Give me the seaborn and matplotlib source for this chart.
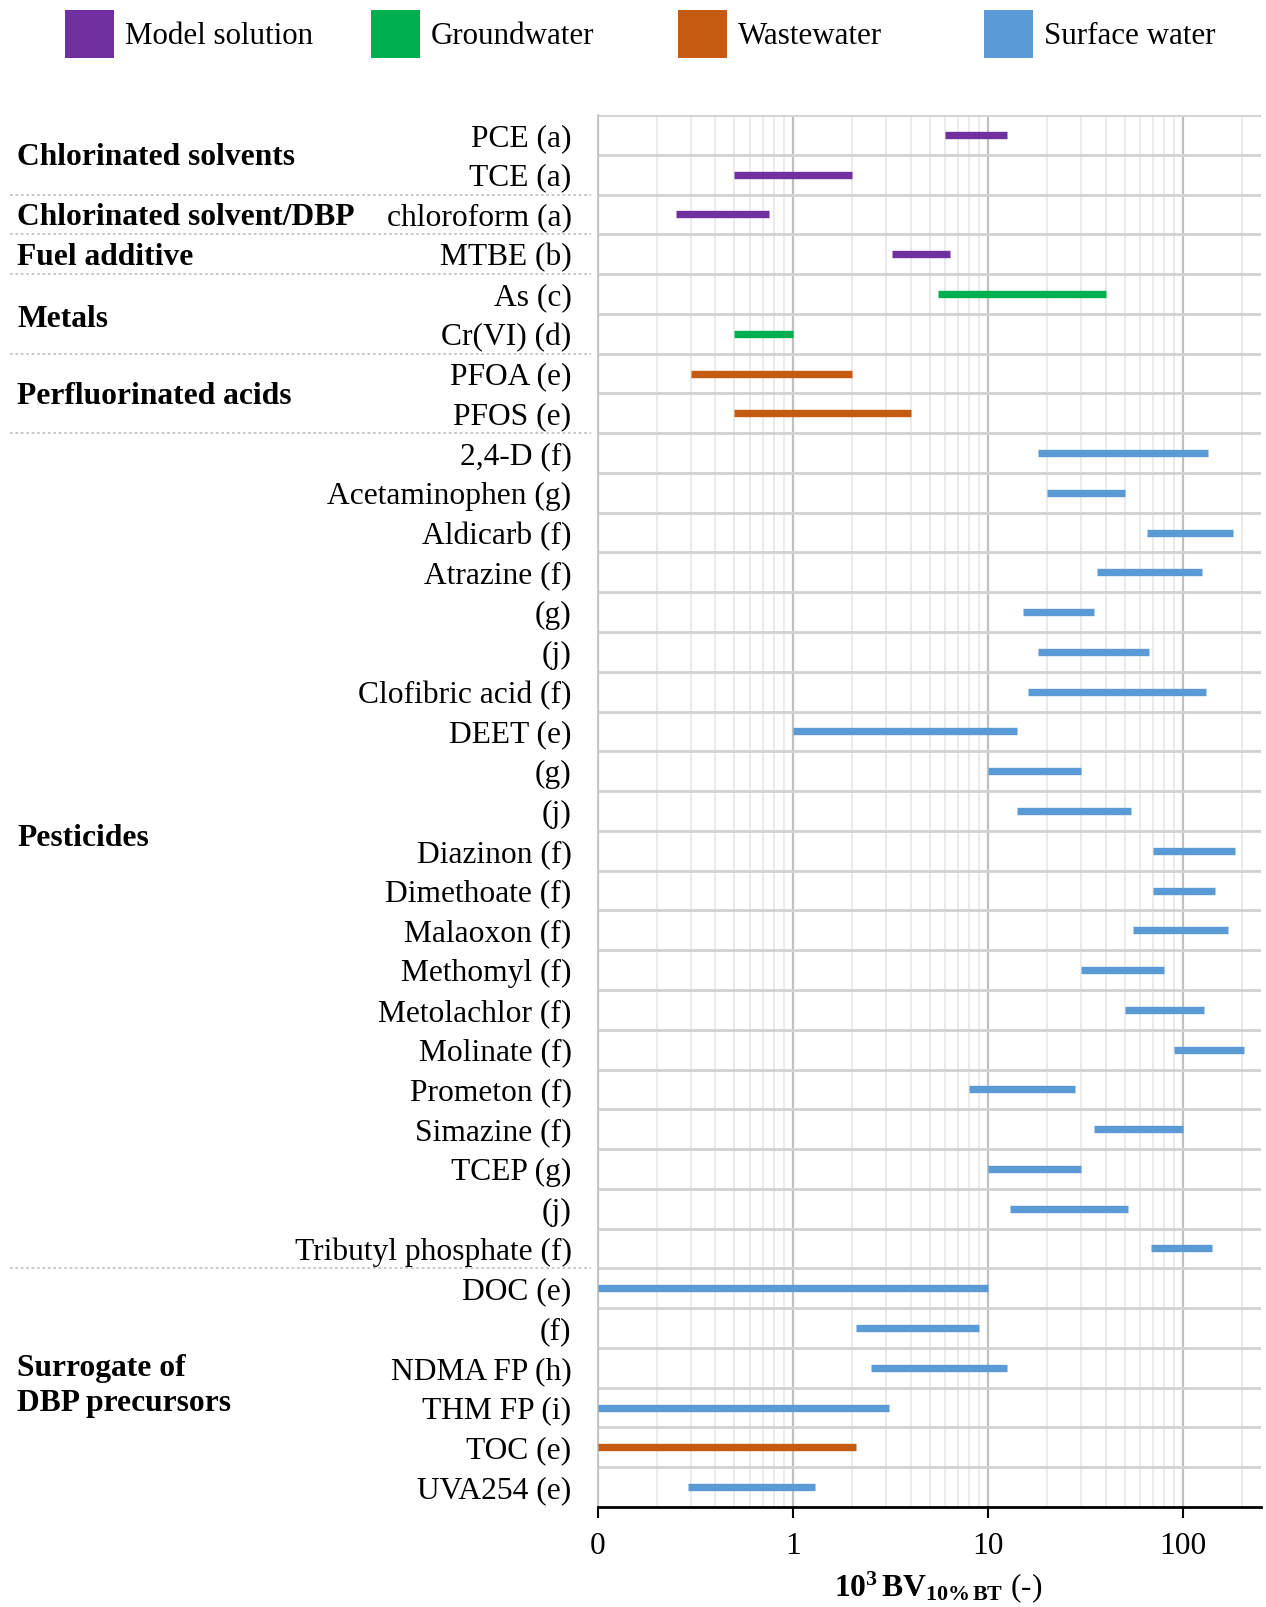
import numpy as np
import pandas as pd
import matplotlib
matplotlib.use("Agg")
import matplotlib.pyplot as plt
from matplotlib.patches import Rectangle
from matplotlib.ticker import FixedLocator
import seaborn as sns

# ---- data -------------------------------------------------------------
compounds = [
    "PCE (a)", "TCE (a)", "chloroform (a)", "MTBE (b)", "As (c)", "Cr(VI) (d)",
    "PFOA (e)", "PFOS (e)", "2,4-D (f)", "Acetaminophen (g)", "Aldicarb (f)",
    "Atrazine (f)", "(g)", "(j)", "Clofibric acid (f)", "DEET (e)", "(g)", "(j)",
    "Diazinon (f)", "Dimethoate (f)", "Malaoxon (f)", "Methomyl (f)",
    "Metolachlor (f)", "Molinate (f)", "Prometon (f)", "Simazine (f)",
    "TCEP (g)", "(j)", "Tributyl phosphate (f)", "DOC (e)", "(f)",
    "NDMA FP (h)", "THM FP (i)", "TOC (e)", "UVA254 (e)",
]
bv_low = [6.0, 0.5, 0.25, 3.2, 5.5, 0.5, 0.3, 0.5, 18, 20, 65, 36, 15, 18, 16,
          1.0, 10, 14, 70, 70, 55, 30, 50, 90, 8.0, 35, 10, 13, 68, 0.1, 2.1,
          2.5, 0.1, 0.1, 0.29]
bv_high = [12.5, 2.0, 0.75, 6.4, 40, 1.0, 2.0, 4.0, 133, 50, 180, 125, 35, 67,
           130, 14, 30, 54, 185, 145, 170, 80, 128, 205, 28, 100, 30, 52, 140,
           10, 9.0, 12.5, 3.1, 2.1, 1.3]
water_type = (["Model solution"] * 4 + ["Groundwater"] * 2 + ["Wastewater"] * 2
              + ["Surface water"] * 25 + ["Wastewater", "Surface water"])

water_types = ["Model solution", "Groundwater", "Wastewater", "Surface water"]
water_colors = ["#7030A0", "#00B050", "#C55A11", "#5B9BD5"]

groups = ["Chlorinated solvents", "Chlorinated solvent/DBP", "Fuel additive",
          "Metals", "Perfluorinated acids", "Pesticides",
          "Surrogate of\nDBP precursors"]
group_rows = [(0, 1), (2, 2), (3, 3), (4, 5), (6, 7), (8, 28), (29, 34)]

x_ticks = [0.1, 1, 10, 100]
x_tick_labels = ["0", "1", "10", "100"]

# ---- long-form table: one segment (two points) per compound row --------
rows = np.arange(len(compounds))
segments = pd.DataFrame({
    "row": np.concatenate([rows, rows]),
    "value": np.concatenate([bv_low, bv_high]),
    "water": water_type + water_type,
})

# ---- style ------------------------------------------------------------
sns.set_theme(style="white")
plt.rcParams["font.family"] = ["Liberation Serif", "DejaVu Serif"]
plt.rcParams["mathtext.fontset"] = "custom"
plt.rcParams["mathtext.rm"] = "Liberation Serif"
plt.rcParams["mathtext.bf"] = "Liberation Serif:bold"
plt.rcParams["mathtext.it"] = "Liberation Serif:italic"
for key in ("text.color", "axes.labelcolor", "xtick.color", "ytick.color"):
    plt.rcParams[key] = "black"

FS = 22.7
W, H = 1266, 1607
fig = plt.figure(figsize=(W / 100, H / 100), dpi=100)
ax_left, ax_right, ax_top, ax_bottom = 598, 1261, 115, 1507
ax = fig.add_axes([ax_left / W, 1 - ax_bottom / H,
                   (ax_right - ax_left) / W, (ax_bottom - ax_top) / H])

ax.set_xscale("log")
ax.set_xlim(0.1, 250)
ax.set_ylim(len(compounds) - 0.5, -0.5)

# range bars
sns.lineplot(data=segments, x="value", y="row", hue="water", units="row",
             estimator=None, hue_order=water_types, palette=water_colors,
             linewidth=5.3, legend=False, ax=ax, solid_capstyle="butt",
             zorder=3)

# grid
ax.set_xticks(x_ticks)
ax.set_xticklabels(x_tick_labels, fontsize=FS)
minor = [m * d for d in (0.1, 1, 10) for m in range(2, 10)] + [200]
ax.xaxis.set_minor_locator(FixedLocator(minor))
ax.grid(which="major", axis="x", color="#c0c0c0", lw=1.6, zorder=1)
ax.grid(which="minor", axis="x", color="#e6e6e6", lw=1.1, zorder=0.5)
ax.grid(which="both", axis="y", visible=False)
ax.hlines(np.arange(-0.5, len(compounds) - 1), 0.1, 250, colors="#d2d2d2",
          lw=2.0, zorder=1.5)

ax.set_yticks(rows)
ax.set_yticklabels(compounds, fontsize=FS)
for lbl in ax.get_yticklabels():
    lbl.set_y(lbl.get_position()[1])
ax.tick_params(axis="y", length=0, pad=19)
ax.tick_params(axis="x", which="major", length=8, width=1.5, color="black",
               direction="out", pad=10, bottom=True)
ax.tick_params(axis="x", which="minor", length=0)
ax.set_ylabel("")

for s in ("top", "right"):
    ax.spines[s].set_visible(False)
ax.spines["left"].set_color("#c4c4c4")
ax.spines["left"].set_linewidth(1.3)
ax.spines["bottom"].set_color("black")
ax.spines["bottom"].set_linewidth(2.0)

ax.set_xlabel(r"$\mathbf{10^{3}\,BV_{10\%\,BT}}$ (-)", fontsize=FS)
ax.xaxis.set_label_coords((938 - ax_left) / (ax_right - ax_left),
                          (ax_bottom - 1587) / (ax_bottom - ax_top))
ax.xaxis.label.set_va("center")

# group labels and dotted separators in the label column
ytrans = ax.get_yaxis_transform()
x_grp = (17 - ax_left) / (ax_right - ax_left)
for name, (r0, r1) in zip(groups, group_rows):
    yc = (r0 + r1) / 2 + 0.08
    if name == "Pesticides":
        yc -= 0.4
    if name == "Metals":
        yc += 0.05
    if name.startswith("Surrogate"):
        yc -= 0.12
    ax.text(x_grp, yc, name, transform=ytrans, ha="left", va="center",
            fontsize=FS, fontweight="bold", linespacing=1.25)
for r0, r1 in group_rows[:-1]:
    ax.plot([(10 - ax_left) / (ax_right - ax_left), -0.01], [r1 + 0.5] * 2,
            transform=ytrans, color="#c4c4c4", lw=1.3, ls=(0, (1.5, 1.5)),
            clip_on=False)

# legend row
px_x = [65, 371, 678, 984]
for name, color, x0 in zip(water_types, water_colors, px_x):
    fig.add_artist(Rectangle((x0 / W, 1 - 58 / H), 49 / W, 48 / H,
                             transform=fig.transFigure, facecolor=color,
                             edgecolor="none"))
    fig.text((x0 + 60) / W, 1 - 36 / H, name, fontsize=22.3, ha="left",
             va="center")

fig.savefig("out.png", dpi=100)
